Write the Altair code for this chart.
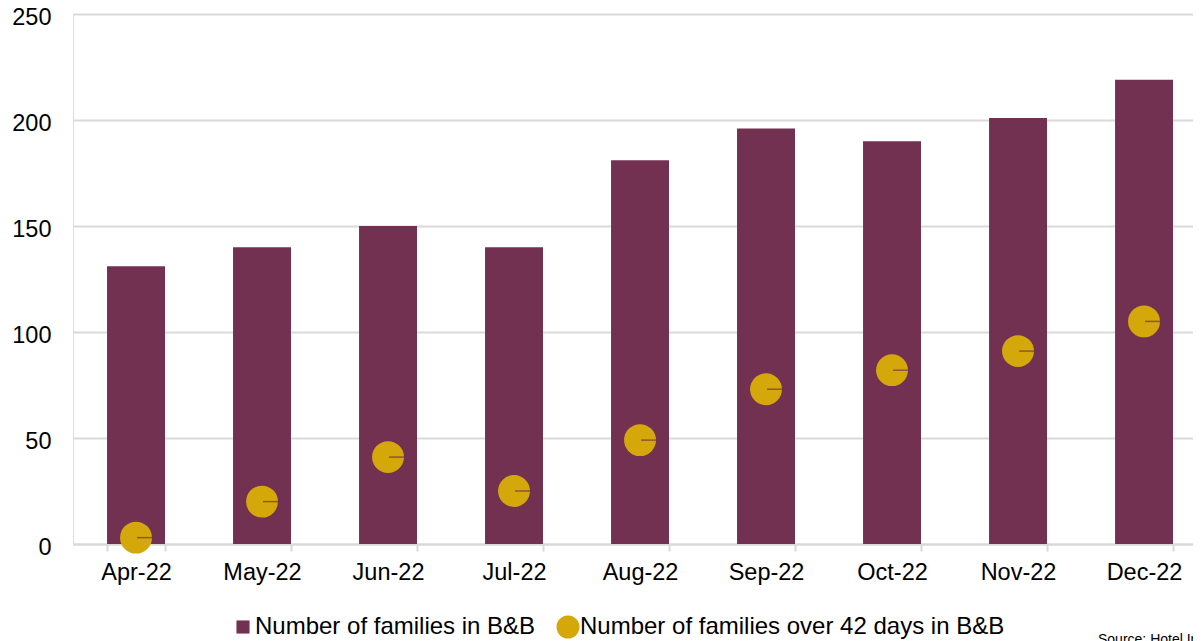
import altair as alt
import pandas as pd

months = ["Apr-22", "May-22", "Jun-22", "Jul-22", "Aug-22", "Sep-22", "Oct-22", "Nov-22", "Dec-22"]
families_bb = [131, 140, 150, 140, 181, 196, 190, 201, 219]
families_42 = [3, 20, 41, 25, 49, 73, 82, 91, 105]
series_names = ["Number of families in B&B", "Number of families over 42 days in B&B"]
source_text = "Source: Hotel Information"

MAROON = "#723151"
GOLD = "#D4A80A"
GRID = "#D9D9D9"
FONT = "Liberation Sans"

rows = []
for m, a, b in zip(months, families_bb, families_42):
    rows.append({"month": m, "series": series_names[0], "value": a})
    rows.append({"month": m, "series": series_names[1], "value": b})
df = pd.DataFrame(rows)

x_scale = alt.Scale(paddingInner=0.54, paddingOuter=0.2144, align=0.63)

x_enc = alt.X(
    "month:N",
    sort=months,
    title=None,
    scale=x_scale,
    axis=alt.Axis(
        labelAngle=0, labelFontSize=23.5, labelColor="black", labelFont=FONT,
        domainColor=GRID, domainWidth=2, tickColor=GRID, tickWidth=2, tickSize=7,
        tickBand="extent", labelPadding=9, grid=False,
    ),
)
y_enc = alt.Y(
    "value:Q",
    title=None,
    scale=alt.Scale(domain=[0, 250], nice=False),
    axis=alt.Axis(
        values=[0, 50, 100, 150, 200, 250], labelFontSize=23.5, labelColor="black",
        labelFont=FONT, ticks=False, domain=False, labelPadding=22, labelOffset=3,
        gridColor=GRID, gridWidth=2,
    ),
)
legend_cfg = dict(
    title=None, orient="none", legendX=158, legendY=601, direction="horizontal",
    labelFontSize=24, labelFont=FONT, labelColor="black", symbolSize=529,
    symbolOpacity=1, symbolStrokeWidth=0, columnPadding=20, labelOffset=0,
    labelLimit=600,
)
color_enc = alt.Color(
    "series:N",
    scale=alt.Scale(domain=series_names, range=[MAROON, GOLD]),
    legend=alt.Legend(**legend_cfg),
)
shape_enc = alt.Shape(
    "series:N",
    scale=alt.Scale(domain=series_names, range=["M-0.57,-0.57H0.57V0.57H-0.57Z", "circle"]),
    legend=alt.Legend(**legend_cfg),
)

base = alt.Chart(df)
bars = base.transform_filter(alt.datum.series == series_names[0]).mark_bar().encode(
    x=x_enc, y=y_enc, color=color_enc
)
points = base.transform_filter(alt.datum.series == series_names[1]).mark_point(
    filled=True, opacity=1, size=1018
).encode(x=x_enc, y=y_enc, color=color_enc, shape=shape_enc)
slits = base.transform_filter(alt.datum.series == series_names[1]).mark_tick(
    orient="horizontal", color=MAROON, thickness=1.5, size=16, xOffset=9
).encode(x=alt.X("month:N", sort=months, scale=x_scale), y=alt.Y("value:Q"))
source = alt.Chart(alt.Data(values=[{"t": source_text}])).mark_text(
    align="left", baseline="alphabetic", fontSize=14, font=FONT, color="black"
).encode(text="t:N", x=alt.value(1025), y=alt.value(630))

chart = alt.layer(bars, points, slits, source).properties(
    width=1120, height=530,
    autosize=alt.AutoSizeParams(type="none"),
    padding={"left": 65, "top": 6, "right": 0, "bottom": 97},
).configure_view(stroke=None).configure(font=FONT)

chart.save("out.html", embed_options={"renderer": "svg", "actions": False})
